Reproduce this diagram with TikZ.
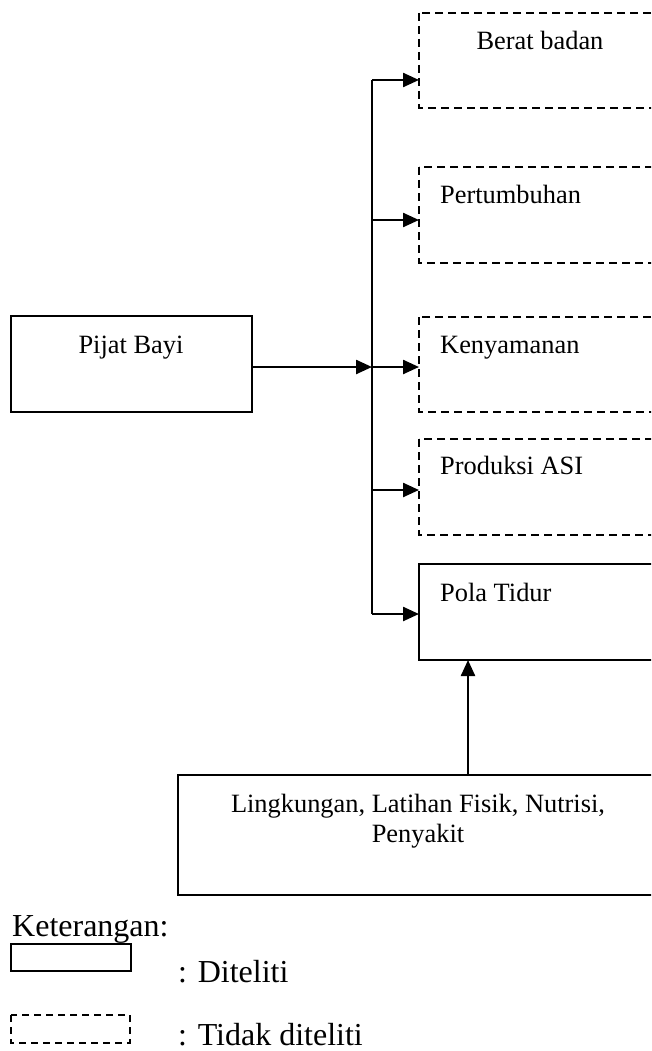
\documentclass[tikz,border=0pt]{standalone}
\usepackage{fontspec}
\setmainfont{Liberation Serif}
\usetikzlibrary{arrows.meta}
\tikzset{
  solidbox/.style={draw=black, line width=2.2pt},
  dashbox/.style={draw=black, line width=1.8pt, dash pattern=on 8pt off 5pt},
  conn/.style={line width=2.4pt, -{Triangle[length=16pt,width=14pt]}},
  lbl/.style={font=\fontsize{26.4}{31.7}\selectfont, inner sep=0pt, anchor=base west},
  lblc/.style={font=\fontsize{26.4}{31.7}\selectfont, inner sep=0pt, anchor=base},
  leg/.style={font=\fontsize{32}{38}\selectfont, inner sep=0pt, anchor=base west}
}
\begin{document}
\begin{tikzpicture}[x=1pt,y=-1pt]
\clip (0,0) rectangle (651,1051);
\fill[white] (0,0) rectangle (651,1051);
% boxes
\draw[dashbox] (419,13) rectangle (700,108);
\draw[dashbox] (419,167) rectangle (700,263);
\draw[dashbox] (419,317) rectangle (700,412);
\draw[dashbox] (419,439) rectangle (700,535);
\draw[solidbox] (419,564) rectangle (700,660);
\draw[solidbox] (11,316) rectangle (252,412);
\draw[solidbox] (178,775) rectangle (700,895);
% named anchors
\coordinate (berat) at (419,80);
\coordinate (tumbuh) at (419,220);
\coordinate (nyaman) at (419,367);
\coordinate (asi) at (419,490);
\coordinate (pola) at (419,614);
\coordinate (pijat) at (252,367);
\coordinate (junc) at (372,367);
\coordinate (top) at (372,80);
\coordinate (bot) at (372,614);
\coordinate (faktor) at (468,775);
\coordinate (polabot) at (468,660);
% labels
\node[lblc] (tberat) at (540,50) {Berat badan};
\node[lbl] (ttumbuh) at (440,203) {Pertumbuhan};
\node[lbl] (tnyaman) at (440,353) {Kenyamanan};
\node[lbl] (tasi) at (440,474) {Produksi ASI};
\node[lbl] (tpola) at (440,601) {Pola Tidur};
\node[lblc] (tpijat) at (131,353) {Pijat Bayi};
\node[lblc] (tfak1) at (418,812) {Lingkungan, Latihan Fisik, Nutrisi,};
\node[lblc] (tfak2) at (418,842) {Penyakit};
% connectors
\draw[line width=2.4pt] (top) -- (bot);
\draw[conn] (pijat) -- (junc);
\draw[conn] (top) -- (berat);
\draw[conn] (372,220) -- (tumbuh);
\draw[conn] (junc) -- (nyaman);
\draw[conn] (372,490) -- (asi);
\draw[conn] (bot) -- (pola);
\draw[conn] (faktor) -- (polabot);
% legend
\node[leg] (ket) at (12,936) {Keterangan:};
\draw[solidbox, line width=1.6pt] (11,944) rectangle (131,971);
\node[leg] (dit) at (178,982) {: Diteliti};
\draw[dashbox, line width=1.4pt, dash pattern=on 7pt off 5pt] (11,1015) rectangle (130,1043);
\node[leg] (tdit) at (178,1045) {: Tidak diteliti};
\end{tikzpicture}
\end{document}
